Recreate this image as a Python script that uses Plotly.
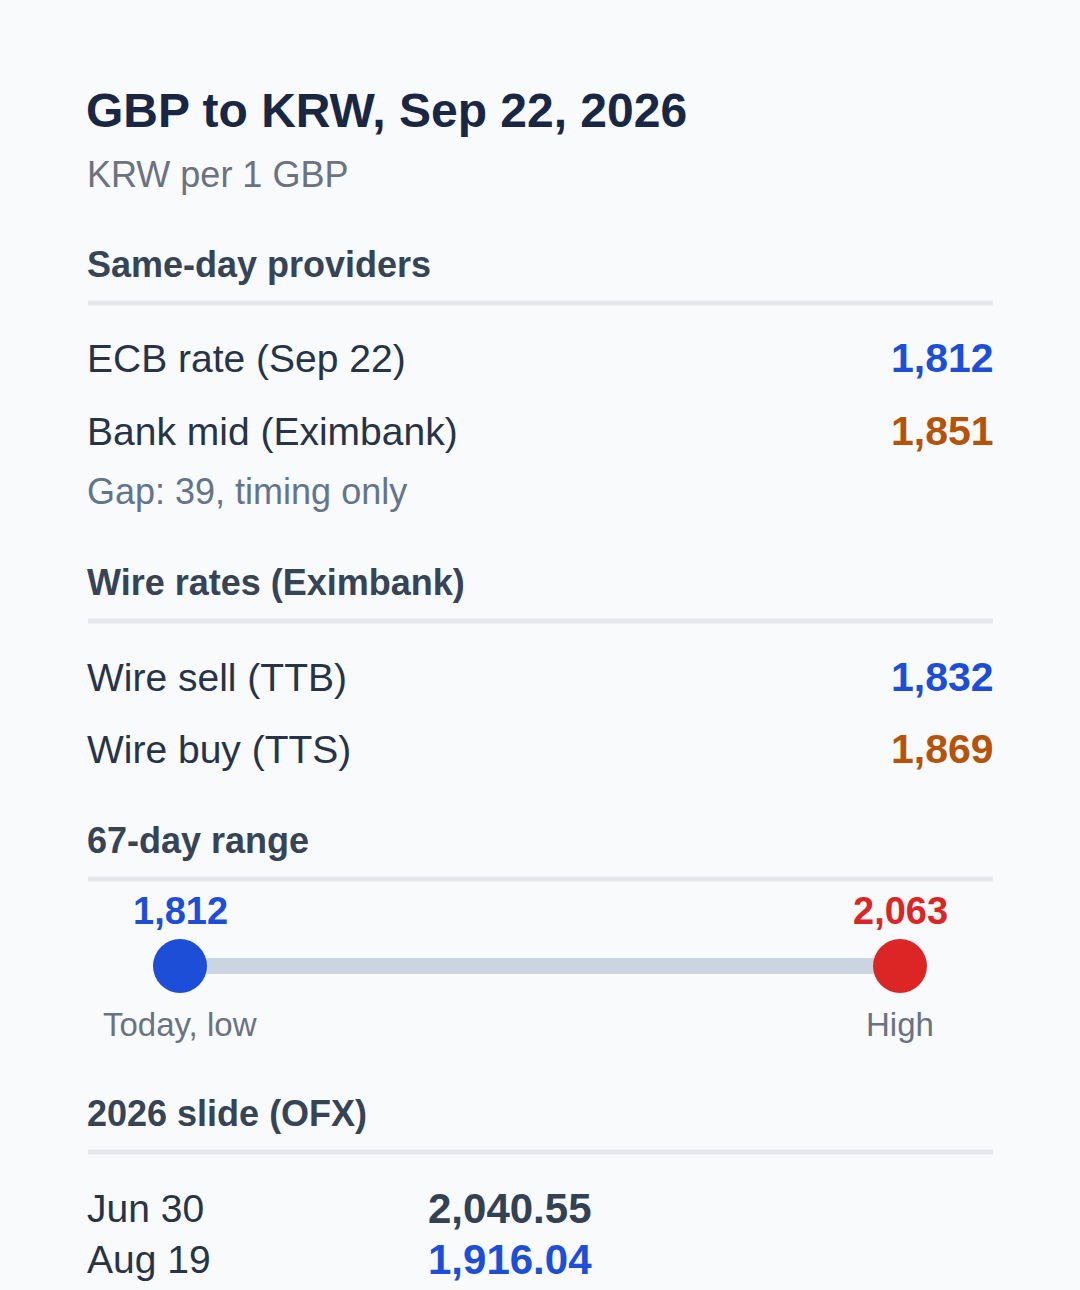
import plotly.graph_objects as go

W, H = 1080, 1290

title = "GBP to KRW, Sep 22, 2026"
subtitle = "KRW per 1 GBP"

same_day_labels = ["ECB rate (Sep 22)", "Bank mid (Eximbank)"]
same_day_values = [1812, 1851]
gap_note = "Gap: 39, timing only"

wire_labels = ["Wire sell (TTB)", "Wire buy (TTS)"]
wire_values = [1832, 1869]

range_days = 67
range_low = 1812
range_high = 2063
range_labels = ["Today, low", "High"]

slide_dates = ["Jun 30", "Aug 19"]
slide_values = [2040.55, 1916.04]

FONT = "Liberation Sans, Arial, sans-serif"
BLUE = "#1d4ed8"
ORANGE = "#b45309"
RED = "#dc2626"
TITLE_C = "#1a2744"
HEAD_C = "#364456"
ROW_C = "#273447"
MUTED = "#64748b"
RULE_C = "#e5e7eb"
TRACK_C = "#cbd5e1"
BG = "#f8fafc"

LEFT, RIGHT = 88, 993
TX = LEFT - 3

fig = go.Figure()

# Range track and end dots, positioned by the KRW value axis
fig.add_trace(go.Scatter(
    x=[range_low, range_high], y=[966, 966], xaxis="x2", yaxis="y2",
    mode="lines", line=dict(color=TRACK_C, width=16), hoverinfo="skip",
    cliponaxis=False, showlegend=False))
fig.add_trace(go.Scatter(
    x=[range_low, range_high], y=[966, 966], xaxis="x2", yaxis="y2",
    mode="markers", marker=dict(size=54, color=[BLUE, RED], line=dict(width=0)),
    hoverinfo="skip", cliponaxis=False, showlegend=False))

ann = []

def txt(x, y, s, size, color, bold=False, xanchor="left", xref="x"):
    ann.append(dict(x=x, y=y, xref=xref, yref="y", text=f"<b>{s}</b>" if bold else s,
                    showarrow=False, xanchor=xanchor, yanchor="middle",
                    font=dict(family=FONT, size=size, color=color)))

txt(TX - 1, 110, title, 48, TITLE_C, bold=True)
txt(TX, 174, subtitle, 36, "#6b7280")

shapes = []
def rule(y):
    shapes.append(dict(type="rect", xref="x", yref="y", x0=LEFT, x1=RIGHT,
                       y0=y - 2.5, y1=y + 2.5, fillcolor=RULE_C, line=dict(width=0),
                       layer="below"))

# Section 1
txt(TX, 264, "Same-day providers", 36, HEAD_C, bold=True)
rule(303)
row_y1 = [358, 431]
val_colors = [BLUE, ORANGE]
for lab, v, y, c in zip(same_day_labels, same_day_values, row_y1, val_colors):
    txt(TX, y, lab, 39, ROW_C)
    txt(RIGHT + 3, y, f"{v:,}", 41, c, bold=True, xanchor="right")
txt(TX, 491, gap_note, 36, MUTED)

# Section 2
txt(TX, 582, "Wire rates (Eximbank)", 36, HEAD_C, bold=True)
rule(621)
row_y2 = [677, 749]
for lab, v, y, c in zip(wire_labels, wire_values, row_y2, val_colors):
    txt(TX, y, lab, 39, ROW_C)
    txt(RIGHT + 3, y, f"{v:,}", 41, c, bold=True, xanchor="right")

# Section 3
txt(TX, 840, f"{range_days}-day range", 36, HEAD_C, bold=True)
rule(879)
for v, c, lab in zip([range_low, range_high], [BLUE, RED], range_labels):
    txt(v, 911, f"{v:,}", 38, c, bold=True, xanchor="center", xref="x2")
    txt(v, 1024, lab, 33, "#6b7280", xanchor="center", xref="x2")

# Section 4
txt(TX, 1113, "2026 slide (OFX)", 36, HEAD_C, bold=True)
rule(1152)
slide_y = [1208, 1259]
slide_colors = ["#334155", BLUE]
for d, v, y, c in zip(slide_dates, slide_values, slide_y, slide_colors):
    txt(TX, y, d, 39, ROW_C)
    txt(426, y, f"{v:,.2f}", 42, c, bold=True)

fig.update_layout(
    width=W, height=H, margin=dict(l=0, r=0, t=0, b=0),
    paper_bgcolor=BG, plot_bgcolor="rgba(0,0,0,0)",
    xaxis=dict(range=[0, W], domain=[0, 1], visible=False, fixedrange=True),
    yaxis=dict(range=[H, 0], domain=[0, 1], visible=False, fixedrange=True),
    xaxis2=dict(range=[range_low, range_high], domain=[180 / W, 900 / W],
                anchor="y2", visible=False, fixedrange=True),
    yaxis2=dict(range=[H, 0], domain=[0, 1], anchor="x2", visible=False, fixedrange=True),
    annotations=ann, shapes=shapes, showlegend=False,
)

fig.write_html(
    "out.html",
    config={"displayModeBar": False},
    post_script="document.body.style.margin='0';document.body.style.background='%s';" % BG,
)
